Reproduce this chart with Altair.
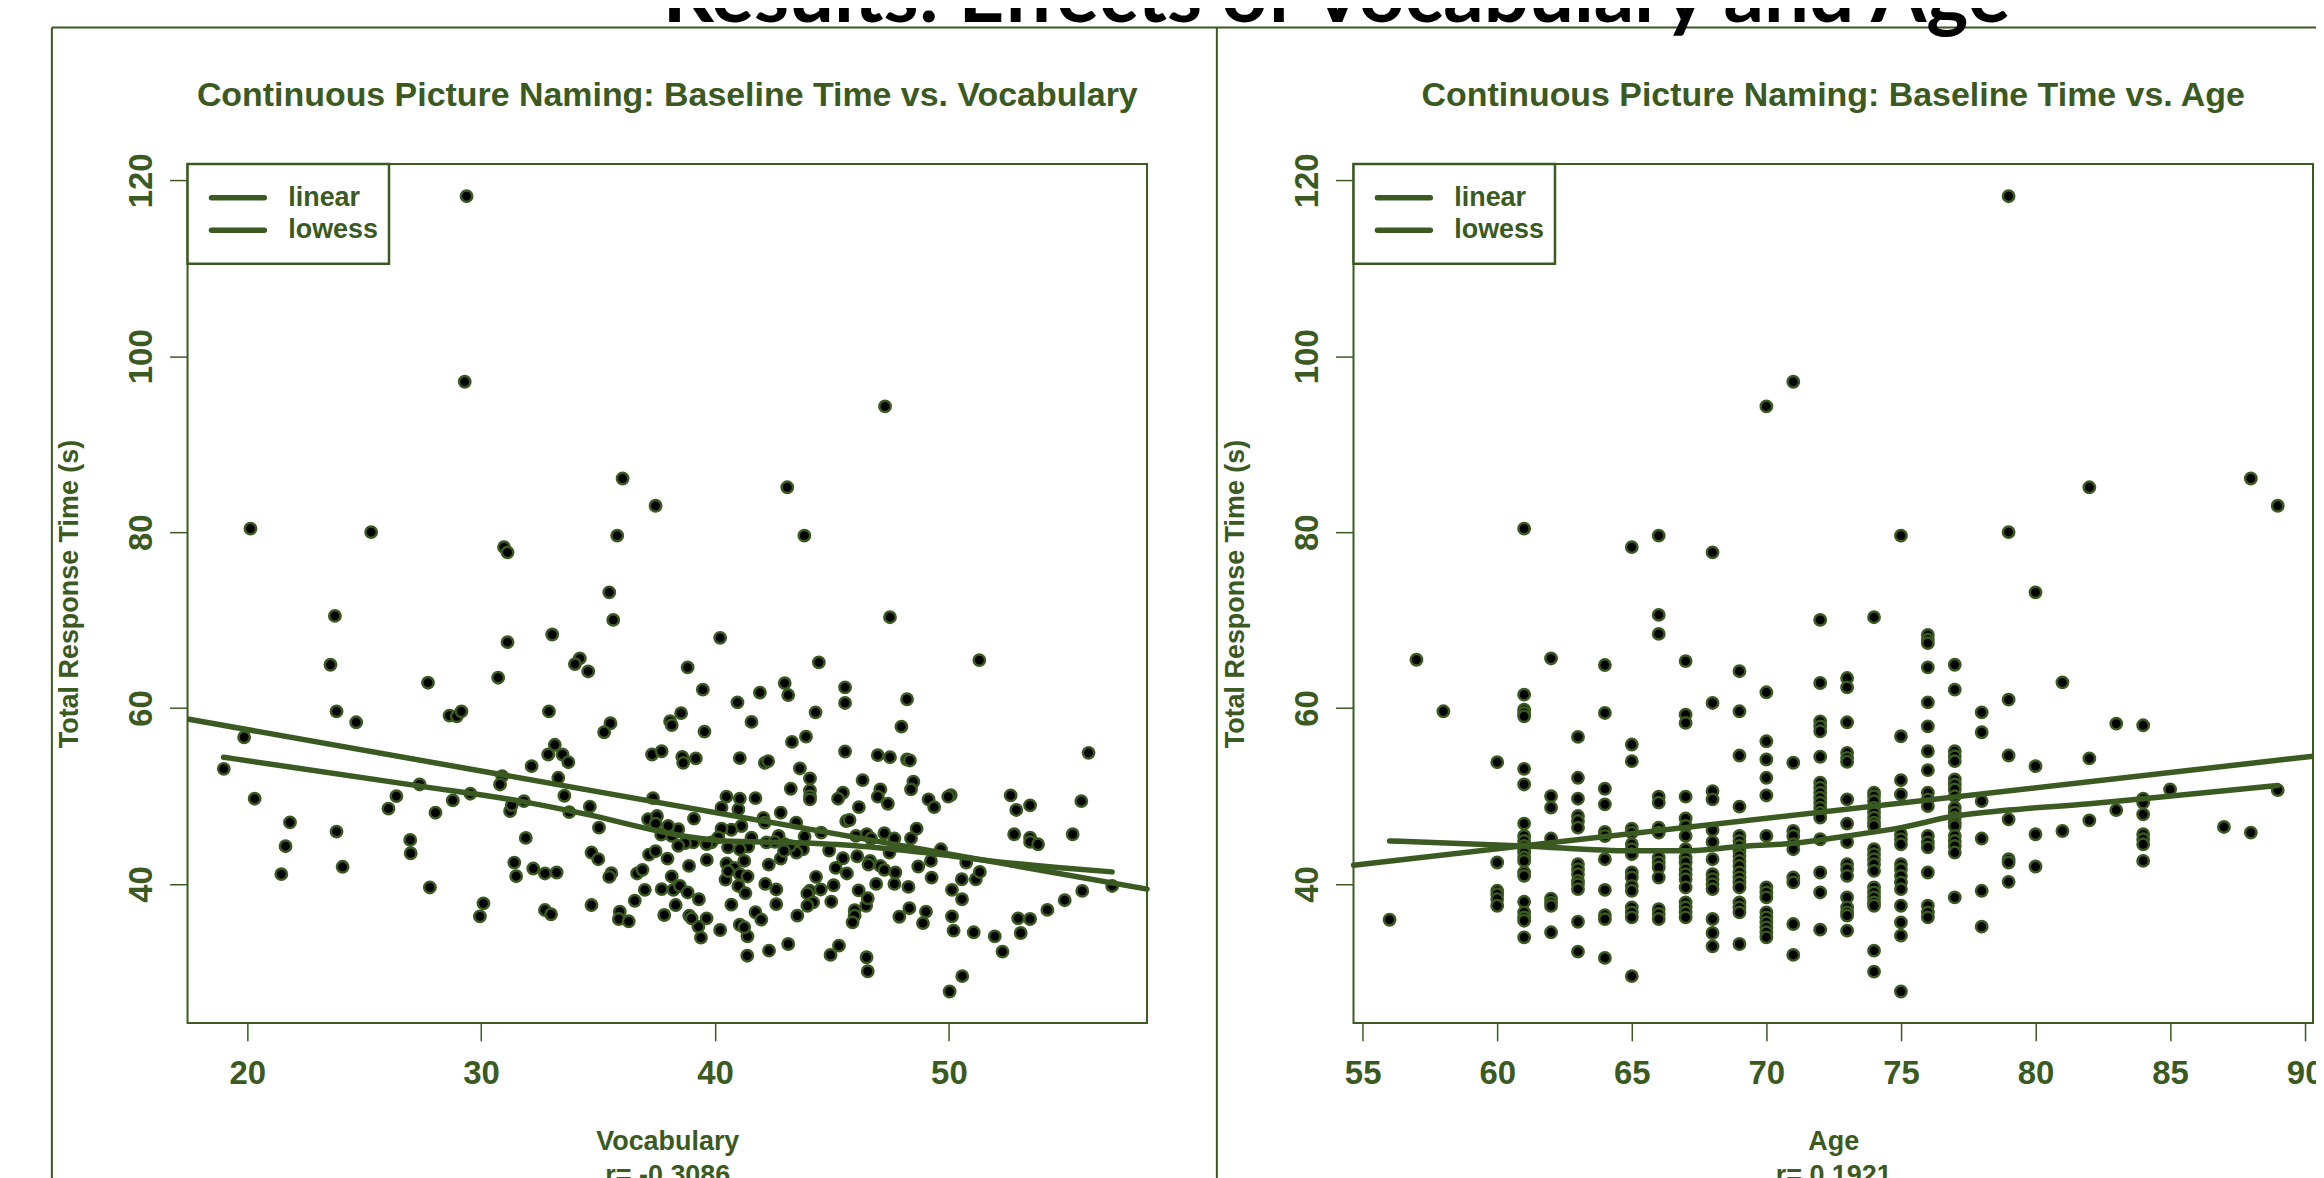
import altair as alt
import pandas as pd

GREEN = "#3b5a22"
FONT = "Liberation Sans"

# ---------------- data ----------------
vocab = [
    29.38, 29.3, 47.27, 36.05, 43.09, 37.46, 20.14, 25.3, 35.82, 43.82, 30.98, 31.13,
    35.48, 35.65, 23.75, 33.04, 31.13, 23.56, 34.22, 34.01, 34.58, 27.73, 30.73, 23.82,
    24.66, 28.65, 28.96, 29.16, 32.9, 35.53, 35.26, 19.87, 19.0, 33.15, 32.87, 33.48,
    33.73, 32.16, 33.3, 30.9, 30.81, 37.31, 27.37, 26.38, 26.04, 28.05, 28.79, 29.54,
    20.32, 21.83, 21.64, 21.46, 23.82, 24.08, 26.97, 26.99, 27.81, 31.24, 31.31, 31.83,
    33.56, 33.77, 34.65, 31.91, 37.35, 37.14, 37.52, 37.46, 35.04, 34.72, 35.01, 31.42,
    31.5, 32.23, 32.73, 33.23, 35.57, 35.48, 36.67, 36.9, 37.18, 37.46, 37.0, 36.57,
    34.72, 35.93, 35.89, 36.31, 32.73, 32.99, 30.1, 29.95,
    47.48, 40.22, 51.3, 38.83, 44.44, 39.48, 42.98, 43.13, 45.56, 45.56, 40.96, 41.92,
    48.21, 38.55, 38.08, 38.15, 41.56, 44.3, 39.55, 47.97, 43.89, 43.29, 37.72, 38.6,
    38.64, 39.18, 41.06, 42.13, 42.27, 45.56, 46.96, 47.48, 48.21, 48.33, 55.97, 43.63,
    44.06, 44.06, 44.06, 44.06, 43.24, 46.31, 47.07, 46.96, 47.39, 48.48, 48.38, 45.47,
    45.26, 46.15, 49.13, 49.37, 50.08, 49.97, 52.64, 52.88, 53.47, 55.66, 52.79, 53.47,
    53.47, 53.81, 55.29, 56.98, 55.7, 54.95, 54.21, 52.96, 53.47, 53.07, 51.96, 52.29,
    51.06, 50.2, 50.13, 50.13, 50.56, 50.55, 51.15, 51.32, 50.74, 49.66, 49.26, 49.23,
    48.69, 48.62, 48.38, 48.27, 48.31, 47.88, 48.89, 49.02, 50.03, 50.57, 46.48, 46.53,
    45.3, 44.94, 43.13, 42.31, 41.38, 41.39, 41.06, 41.25, 40.22, 39.4, 39.29, 38.9,
    39.0, 39.64, 37.83, 38.32, 37.72, 38.22, 38.15, 38.5, 38.83, 39.31, 40.45, 37.97,
    38.89, 39.65, 40.49, 40.82, 40.56, 41.25, 41.06, 41.39, 41.0, 41.3, 40.7, 42.15,
    42.62, 42.3, 42.81, 42.62, 41.73, 41.98, 43.52, 44.05, 43.95, 44.19, 43.95, 44.32,
    44.52, 44.97, 45.07, 45.16, 45.47, 45.64, 46.08, 46.14, 45.97, 45.97, 45.88, 46.46,
    46.53, 46.63, 46.56, 47.07, 47.24, 46.89, 47.67, 47.71, 44.88, 44.54, 43.83, 43.76,
    43.48, 43.47, 42.81, 42.72, 42.98, 43.2, 42.95, 42.07, 42.13, 41.56, 42.2, 42.55,
    41.42, 41.06, 41.13, 41.0, 41.06, 40.49, 40.28, 41.73, 40.7, 40.28, 40.14, 40.56,
    39.85, 39.64, 39.1, 39.07, 38.72, 38.43, 38.15, 38.43, 38.0, 37.7, 46.03, 46.49,
    47.24, 47.67, 47.46, 46.67, 45.61, 45.75,
]
rt_vocab = [
    118.2, 97.1, 94.3, 86.1, 85.1, 83.0, 80.4, 80.0, 79.6, 79.6, 78.3, 77.7,
    73.16, 70.02, 70.48, 68.36, 67.49, 64.92, 65.64, 65.0, 64.16, 62.88, 63.45, 59.62,
    58.38, 59.14, 59.06, 59.62, 59.62, 58.27, 57.25, 56.68, 53.09, 55.82, 54.72, 54.72,
    53.84, 53.39, 52.07, 52.26, 51.31, 54.72, 51.31, 49.99, 48.56, 48.1, 49.5, 50.26,
    49.69, 47.0, 44.29, 41.11, 45.95, 41.95, 45.0, 43.49, 39.6, 48.29, 48.97, 49.42,
    50.03, 48.17, 48.79, 45.23, 49.76, 47.35, 47.72, 46.86, 46.4, 43.57, 42.81, 42.43,
    40.88, 41.75, 41.19, 41.3, 41.22, 40.8, 41.19, 41.6, 43.34, 43.72, 39.33, 38.09,
    37.6, 36.84, 36.01, 35.75, 37.03, 36.55, 37.79, 36.31,
    70.33, 67.98, 65.45, 64.62, 65.2, 62.09, 62.84, 61.48, 62.35, 60.58, 60.65, 61.75,
    61.0, 59.42, 58.51, 58.06, 58.42, 59.51, 57.32, 57.88, 56.75, 56.15, 55.09, 54.45,
    53.77, 54.27, 54.31, 53.77, 53.96, 55.06, 54.64, 54.41, 54.15, 54.04, 54.91, 53.13,
    52.0, 50.63, 49.99, 49.61, 50.82, 51.81, 50.75, 49.92, 49.12, 51.62, 50.75, 50.37,
    49.69, 48.74, 49.61, 48.74, 50.1, 49.92, 50.07, 48.41, 48.94, 49.42, 45.65, 45.27,
    44.78, 44.51, 45.65, 39.77, 39.21, 38.15, 37.05, 36.09, 36.01, 34.42, 34.04, 32.3,
    34.5, 34.69, 36.31, 39.33, 38.26, 40.53, 40.53, 41.36, 42.43, 43.94, 40.72, 42.62,
    41.98, 46.28, 45.17, 39.66, 37.24, 36.27, 35.55, 36.84, 27.77, 29.51, 31.66, 30.07,
    32.98, 31.93, 33.17, 32.41, 31.84, 34.04, 35.36, 35.07, 34.76, 33.89, 35.14, 36.39,
    36.09, 36.09, 36.47, 37.6, 39.41, 39.33, 40.85, 39.77, 39.03, 38.26, 40.49, 42.88,
    42.05, 42.73, 42.32, 41.83, 41.46, 42.62, 41.11, 40.85, 39.77, 38.96, 37.64, 40.0,
    39.37, 42.2, 42.88, 37.71, 36.78, 35.94, 36.39, 39.22, 38.92, 37.9, 37.52, 40.81,
    39.37, 37.98, 39.85, 41.83, 42.92, 41.19, 43.15, 39.26, 37.01, 36.39, 35.63, 37.52,
    38.37, 42.62, 42.2, 42.05, 41.6, 40.0, 40.0, 41.3, 43.8, 45.84, 45.39, 43.94,
    43.57, 46.97, 48.1, 45.46, 44.52, 44.33, 43.75, 47.5, 46.97, 45.27, 44.72, 44.78,
    44.25, 43.94, 46.59, 48.48, 49.69, 49.92, 48.67, 49.76, 46.16, 46.28, 45.29, 44.16,
    44.72, 44.52, 47.43, 44.72, 44.64, 44.33, 45.46, 46.22, 46.59, 45.6, 45.46, 45.65,
    45.76, 45.16, 43.57, 45.16, 47.15, 47.27,
]

age = (
    [79, 71, 70, 88, 82, 89, 61, 65, 66, 68, 75, 79]
    + [56] + [57] + [58]
    + [60] * 6 + [61] * 21 + [62] * 8 + [63] * 14 + [64] * 11 + [65] * 15
    + [66] * 13 + [67] * 18 + [68] * 13 + [69] * 19 + [70] * 15 + [71] * 9
    + [72] * 18 + [73] * 17 + [74] * 21 + [75] * 15 + [76] * 18 + [77] * 19
    + [78] * 6 + [79] * 6 + [80] * 4 + [81] * 2 + [82] * 2 + [83] * 2 + [84] * 8
    + [85] + [87] + [88] + [89]
)
rt_age = [
    118.2, 97.1, 94.3, 86.1, 85.1, 83.0, 80.4, 78.3, 79.6, 77.7, 79.6, 80.0,
    35.93, 65.49, 59.63,
    53.84, 42.44, 39.22, 38.84, 38.28, 37.52,
    61.52, 59.82, 59.44, 59.06, 53.09, 51.31, 46.86, 45.45, 44.89, 44.32, 43.94, 43.57,
    43.0, 42.62, 41.3, 40.92, 37.97, 36.77, 36.2, 35.82, 33.93,
    65.64, 49.99, 48.67, 45.16, 38.32, 37.87, 37.5, 34.5,
    56.72, 52.07, 49.69, 47.72, 47.15, 46.4, 42.24, 41.67, 41.1, 40.35, 39.98, 39.41, 35.7, 32.3,
    64.89, 59.44, 50.82, 49.05, 45.91, 45.45, 42.81, 39.33, 36.46, 36.0, 31.59,
    55.85, 53.96, 46.29, 45.84, 44.51, 43.95, 43.38, 41.3, 40.73, 39.78, 39.22, 37.34, 36.77, 36.2, 29.51,
    70.59, 68.43, 49.92, 49.24, 46.4, 45.84, 43.0, 42.44, 41.87, 40.73, 37.14, 36.58, 36.01,
    65.34, 59.25, 58.31, 49.92, 47.44, 46.6, 45.46, 43.95, 43.0, 42.44, 41.68, 41.11, 40.54,
    39.6, 37.9, 37.34, 36.77, 36.2,
    60.58, 50.56, 49.61, 46.13, 44.77, 42.81, 41.11, 40.54, 39.98, 39.41, 36.01, 34.42, 32.91,
    64.19, 59.63, 54.6, 48.79, 45.46, 44.89, 44.32, 43.76, 43.19, 42.62, 42.05, 41.3, 40.73,
    40.17, 39.6, 37.9, 37.34, 36.77, 33.17,
    61.79, 56.22, 54.15, 52.07, 50.06, 45.46, 39.6, 39.03, 38.47, 36.77, 36.2, 35.63, 35.06, 34.5, 33.93,
    53.78, 46.02, 45.46, 44.51, 43.95, 40.73, 40.17, 35.44, 31.93,
    70.02, 62.85, 58.49, 57.92, 57.36, 54.46, 51.51, 50.94, 50.37, 49.81, 49.24, 48.67, 48.11,
    47.54, 45.08, 41.3, 39.03, 34.8,
    63.41, 62.35, 58.38, 54.91, 54.34, 53.89, 49.61, 46.86, 44.77, 42.24, 41.68, 40.92, 38.47,
    37.34, 36.77, 36.39, 34.69,
    70.33, 50.37, 49.99, 49.42, 48.67, 48.11, 47.54, 46.97, 46.59, 43.95, 43.38, 42.81, 42.24,
    41.49, 39.6, 39.03, 38.47, 37.9, 37.52, 32.41, 30.03,
    56.79, 51.8, 50.18, 45.65, 45.08, 44.51, 42.24, 41.68, 40.92, 40.17, 39.41, 37.52, 35.63, 34.12, 27.77,
    68.32, 67.76, 67.38, 64.62, 60.65, 57.92, 55.09, 52.94, 50.37, 49.61, 48.86, 45.46, 44.72,
    44.15, 41.3, 37.52, 36.77, 36.2,
    64.92, 62.09, 55.09, 54.53, 53.96, 51.88, 51.31, 50.75, 49.99, 48.67, 48.11, 47.54, 46.97,
    46.59, 45.46, 44.89, 44.32, 43.57, 38.47,
    59.51, 57.25, 49.42, 45.16, 39.22, 35.14,
    60.95, 54.6, 47.35, 42.81, 42.44, 40.24,
    73.16, 53.39, 45.65, 41.98,
    62.92, 46.02,
    54.27, 47.23,
    58.23, 48.4,
    58.04, 49.69, 49.24, 47.91, 45.65, 45.08, 44.51, 42.62,
    50.75, 46.48, 45.84, 50.67,
]

vocab_linear_x = [17.45, 58.47]
vocab_linear_y = [58.76, 39.41]
vocab_lowess_x = [18.99, 27.4, 31.66, 34.52, 37.58, 39.0, 40.42, 43.26, 46.11, 48.95, 51.79, 54.64, 56.98]
vocab_lowess_y = [54.41, 51.12, 49.42, 47.91, 46.02, 45.3, 44.89, 44.7, 44.32, 43.57, 42.62, 41.87, 41.37]

age_linear_x = [54.66, 90.31]
age_linear_y = [42.13, 54.52]
age_lowess_x = [56, 61, 65, 67, 69, 71, 73, 75, 77, 79, 82, 84, 89]
age_lowess_y = [44.89, 44.32, 43.76, 43.76, 44.25, 44.63, 45.46, 46.4, 47.72, 48.4, 49.12, 49.69, 51.2]

vocab_ticks = [20, 30, 40, 50]
age_ticks = [55, 60, 65, 70, 75, 80, 85, 90]
y_ticks = [40, 60, 80, 100, 120]
y_domain = [24.2, 121.85]
vocab_domain = [17.45, 58.47]
age_domain = [54.66, 90.31]

main_title = "Results: Effects of Vocabulary and Age"
vocab_title = "Continuous Picture Naming: Baseline Time vs. Vocabulary"
age_title = "Continuous Picture Naming: Baseline Time vs. Age"
vocab_xlab = ["Vocabulary", "r= -0.3086"]
age_xlab = ["Age", "r= 0.1921"]
ylab = "Total Response Time (s)"
legend_labels = ["linear", "lowess"]

# ---------------- layout (pixels, plot coordinates) ----------------
W_PANEL = 962
X0_RIGHT = 1169
W_TOTAL = 2132
H = 861

one = pd.DataFrame({"k": [0]})


def panel(xs, ys, lin_x, lin_y, low_x, low_y, xdom, x0, ticks, xlab, title, show_frame):
    xscale = alt.Scale(domain=xdom, range=[x0, x0 + W_PANEL], nice=False, zero=False)
    yscale = alt.Scale(domain=y_domain, nice=False, zero=False)
    xaxis = alt.Axis(
        orient="bottom", values=ticks, domain=False, grid=False,
        ticks=True, tickSize=18, tickWidth=1.5, tickColor=GREEN,
        labelFont=FONT, labelFontSize=33, labelFontWeight="bold", labelColor=GREEN,
        labelPadding=33, labelBaseline="middle", labelAlign="center",
        labelFlush=False, labelOverlap=False,
        title=xlab, titleFont=FONT, titleFontSize=27, titleFontWeight="bold",
        titleColor=GREEN, titleX=x0 + W_PANEL / 2, titleY=106,
        titleAlign="center", titleBaseline="top", titleLineHeight=34, titleAngle=0,
    )
    yaxis = alt.Axis(
        orient="left", offset=-x0, values=y_ticks, domain=False, grid=False,
        ticks=True, tickSize=18, tickWidth=1.5, tickColor=GREEN,
        labelFont=FONT, labelFontSize=33, labelFontWeight="bold", labelColor=GREEN,
        labelAngle=270, labelAlign="center", labelBaseline="middle", labelPadding=28,
        labelFlush=False, labelOverlap=False,
        title=ylab, titleFont=FONT, titleFontSize=27, titleFontWeight="bold",
        titleColor=GREEN, titleAngle=270, titleX=-118, titleY=H / 2,
        titleAlign="center", titleBaseline="middle",
    )
    X = alt.X("x:Q", scale=xscale, axis=xaxis)
    Y = alt.Y("y:Q", scale=yscale, axis=yaxis)

    box = alt.Chart(one).mark_rect(fillOpacity=0, stroke=GREEN, strokeWidth=2).encode(
        x=alt.value(x0), x2=alt.value(x0 + W_PANEL), y=alt.value(0), y2=alt.value(H)
    )
    pts = alt.Chart(pd.DataFrame({"x": xs, "y": ys})).mark_circle(
        size=130, fill="black", stroke=GREEN, strokeWidth=2.5, opacity=1
    ).encode(x=X, y=Y)
    lin = alt.Chart(pd.DataFrame({"x": lin_x, "y": lin_y})).mark_line(
        color=GREEN, strokeWidth=5.5, strokeCap="round", clip=True
    ).encode(x=X, y=Y)
    low = alt.Chart(pd.DataFrame({"x": low_x, "y": low_y})).mark_line(
        color=GREEN, strokeWidth=5.5, strokeCap="round", interpolate="monotone"
    ).encode(x=X, y=Y)

    leg_box = alt.Chart(one).mark_rect(fill="white", stroke=GREEN, strokeWidth=2.5).encode(
        x=alt.value(x0), x2=alt.value(x0 + 202), y=alt.value(0), y2=alt.value(100)
    )
    layers = [box, pts, lin, low, leg_box]
    for i, lab in enumerate(legend_labels):
        yy = 33.7 + i * 32.6
        layers.append(
            alt.Chart(one).mark_rule(color=GREEN, strokeWidth=5.5, strokeCap="round").encode(
                x=alt.value(x0 + 24), x2=alt.value(x0 + 77), y=alt.value(yy)
            )
        )
        layers.append(
            alt.Chart(one).mark_text(
                text=lab, font=FONT, fontSize=27, fontWeight="bold", color=GREEN,
                align="left", baseline="middle",
            ).encode(x=alt.value(x0 + 101), y=alt.value(yy))
        )
    layers.append(
        alt.Chart(one).mark_text(
            text=title, font=FONT, fontSize=34, fontWeight="bold", color=GREEN,
            align="center", baseline="middle",
        ).encode(x=alt.value(x0 + W_PANEL / 2), y=alt.value(-68))
    )
    if show_frame:
        for x_a, x_b, y_a, y_b in [(-136, 2140, -137, -137), (-136, -136, -137, 1020), (1032, 1032, -137, 1020)]:
            layers.append(
                alt.Chart(one).mark_rule(color=GREEN, strokeWidth=2).encode(
                    x=alt.value(x_a), x2=alt.value(x_b), y=alt.value(y_a), y2=alt.value(y_b)
                )
            )
        layers.append(
            alt.Chart(one).mark_text(
                text=main_title, font="Lato", fontSize=80, fontWeight="bold", color="black",
                align="center", baseline="alphabetic",
            ).encode(x=alt.value(1152), y=alt.value(-142))
        )
    return alt.layer(*layers)


left = panel(vocab, rt_vocab, vocab_linear_x, vocab_linear_y, vocab_lowess_x, vocab_lowess_y,
             vocab_domain, 0, vocab_ticks, vocab_xlab, vocab_title, True)
right = panel(age, rt_age, age_linear_x, age_linear_y, age_lowess_x, age_lowess_y,
              age_domain, X0_RIGHT, age_ticks, age_xlab, age_title, False)

chart = (
    alt.layer(left, right)
    .resolve_scale(x="independent", y="independent")
    .resolve_axis(x="independent", y="independent")
    .properties(
        width=W_TOTAL, height=H,
        padding={"left": 180, "top": 155, "right": 2, "bottom": 154},
        autosize=alt.AutoSizeParams(type="none"),
        background="white",
    )
    .configure_view(strokeWidth=0)
)

chart.save("out.html", embed_options={"renderer": "svg", "actions": False})
